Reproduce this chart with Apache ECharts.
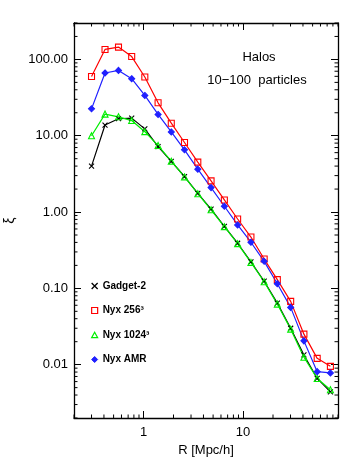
<!DOCTYPE html>
<html>
<head>
<meta charset="utf-8">
<script src="https://cdn.jsdelivr.net/npm/echarts@6/dist/echarts.min.js"></script>
<style>
  html, body { margin: 0; padding: 0; background: #fff; }
  #chart { width: 360px; height: 466px; }
</style>
</head>
<body>
<div id="chart"></div>
<script>
// radius bins, Mpc/h
const radius = [0.30, 0.41, 0.56, 0.76, 1.03, 1.40, 1.90, 2.58, 3.51, 4.77, 6.49, 8.82, 12.0, 16.3, 22.1, 30.1, 40.9, 55.6, 75.5]

const gadget2 = [4.0, 13.8, 16.7, 17.0, 12.3, 7.2, 4.6, 2.92, 1.76, 1.09, 0.65, 0.39, 0.222, 0.124, 0.064, 0.030, 0.0134, 0.0066, 0.0044]
const nyx256 = [59.8, 135, 145, 109, 58.8, 27.0, 14.6, 8.15, 4.51, 2.56, 1.44, 0.81, 0.47, 0.242, 0.130, 0.0675, 0.0251, 0.0121, 0.0095]
const nyx1024 = [10.0, 19.2, 17.7, 15.8, 11.3, 7.43, 4.64, 2.89, 1.74, 1.07, 0.643, 0.385, 0.219, 0.122, 0.0622, 0.0292, 0.0125, 0.0066, 0.0047]
const nyxAMR = [22.5, 66.4, 71.8, 55.8, 33.7, 19.0, 11.2, 6.53, 3.65, 2.09, 1.19, 0.677, 0.402, 0.226, 0.115, 0.0563, 0.0205, 0.0081, 0.0078]

const xTickValues = [1, 10]
const xTickLabels = ['1', '10']
const yTickValues = [0.01, 0.1, 1, 10, 100]
const yTickLabels = ['0.01', '0.10', '1.00', '10.00', '100.00']

const xMin = 0.2, xMax = 90
const yMin = 0.002, yMax = 300

const FONT = '"Liberation Sans", Arial, sans-serif'
const CROSS = 'path://M0,0L10,10M10,0L0,10'
const SQUARE = 'path://M0,0H10V10H0Z'
const TRIANGLE = 'path://M5,0L10,9H0Z'

// minor ticks at 2..9 x 10^n inside the axis range
const minorTicks = (lo, hi) => {
    const out = []
    for (let e = Math.floor(Math.log10(lo)); e <= Math.ceil(Math.log10(hi)); e++) {
        for (let d = 2; d <= 9; d++) {
            const v = d * Math.pow(10, e)
            if (v >= lo * 0.999 && v <= hi * 1.001) out.push(v)
        }
    }
    return out
}
const xMinor = minorTicks(xMin, xMax)
const yMinor = minorTicks(yMin, yMax)

const pickLabel = (values, labels) => v => {
    const i = values.findIndex(t => Math.abs(Math.log10(t) - Math.log10(v)) < 1e-6)
    return i < 0 ? '' : labels[i]
}

const mkSeries = (name, vals, color, symbol, size, fill) => ({
    name: name,
    type: 'line',
    data: radius.map((r, i) => [r, vals[i]]),
    symbol: symbol,
    symbolSize: size,
    lineStyle: { color: color, width: 1.2 },
    itemStyle: { color: fill, borderColor: color, borderWidth: 1.1 },
    emphasis: { disabled: true }
})

const axisBase = {
    axisLine: { show: true, onZero: false, lineStyle: { color: '#000', width: 1.3 } },
    axisTick: { show: true, inside: true, length: 7, lineStyle: { color: '#000', width: 1 } },
    splitLine: { show: false }
}

const chart = echarts.init(document.getElementById('chart'))
chart.setOption({
    animation: false,
    backgroundColor: '#fff',
    grid: { left: 74, right: 22, top: 23, bottom: 48, containLabel: false, outerBoundsMode: 'none' },
    xAxis: [
        Object.assign({}, axisBase, {
            type: 'log', min: xMin, max: xMax, position: 'bottom',
            name: 'R [Mpc/h]', nameLocation: 'middle', nameGap: 21,
            nameTextStyle: { color: '#000', fontSize: 13, fontFamily: FONT },
            axisLabel: { color: '#000', fontSize: 13, fontFamily: FONT, margin: 8,
                formatter: pickLabel(xTickValues, xTickLabels) }
        }),
        Object.assign({}, axisBase, {
            type: 'log', min: xMin, max: xMax, position: 'top',
            axisLabel: { show: false }
        })
    ],
    yAxis: [
        Object.assign({}, axisBase, {
            type: 'log', min: yMin, max: yMax, position: 'left',
            name: 'ξ', nameLocation: 'middle', nameGap: 52, nameRotate: 90,
            nameTextStyle: { color: '#000', fontSize: 14, fontFamily: FONT },
            axisLabel: { color: '#000', fontSize: 13, fontFamily: FONT, margin: 6,
                formatter: pickLabel(yTickValues, yTickLabels) }
        }),
        Object.assign({}, axisBase, {
            type: 'log', min: yMin, max: yMax, position: 'right',
            axisLabel: { show: false }
        })
    ],
    legend: {
        orient: 'vertical', left: 86, top: 276,
        itemWidth: 6, itemHeight: 6, itemGap: 14.5, selectedMode: false,
        textStyle: { color: '#000', fontSize: 10, fontWeight: 'bold', fontFamily: FONT },
        data: [
            { name: 'Gadget-2', icon: CROSS, itemStyle: { color: 'transparent', borderColor: '#000', borderWidth: 1.3 } },
            { name: 'Nyx 256³', icon: SQUARE, itemStyle: { color: 'transparent', borderColor: '#ff0000', borderWidth: 1.2 } },
            { name: 'Nyx 1024³', icon: TRIANGLE, itemStyle: { color: 'transparent', borderColor: '#00ee00', borderWidth: 1.2 } },
            { name: 'Nyx AMR', icon: 'diamond', itemStyle: { color: '#2020ff', borderColor: '#2020ff', borderWidth: 1 } }
        ]
    },
    graphic: [
        { type: 'text', x: 259, y: 57, style: { text: 'Halos', align: 'center', verticalAlign: 'middle', fontSize: 13, fontFamily: FONT, fill: '#000' } },
        { type: 'text', x: 257, y: 80, style: { text: '10−100  particles', align: 'center', verticalAlign: 'middle', fontSize: 13, fontFamily: FONT, fill: '#000' } }
    ],
    series: [
        mkSeries('Gadget-2', gadget2, '#000000', CROSS, 5, 'transparent'),
        mkSeries('Nyx 256³', nyx256, '#ff0000', SQUARE, 6, 'transparent'),
        mkSeries('Nyx 1024³', nyx1024, '#00ee00', TRIANGLE, 6, 'transparent'),
        mkSeries('Nyx AMR', nyxAMR, '#2020ff', 'diamond', 6, '#2020ff'),
        {
            // minor ticks on all four sides of the frame
            type: 'custom', coordinateSystem: 'cartesian2d', silent: true, clip: false, z: 10,
            data: [[1, 1]],
            renderItem: (params, api) => {
                const seg = (x1, y1, x2, y2) => ({ type: 'line', shape: { x1, y1, x2, y2 }, style: { stroke: '#000', lineWidth: 1 } })
                const lo = api.coord([xMin, yMin])
                const hi = api.coord([xMax, yMax])
                const children = []
                xMinor.forEach(v => {
                    const x = api.coord([v, 1])[0]
                    children.push(seg(x, lo[1], x, lo[1] - 3.5), seg(x, hi[1], x, hi[1] + 3.5))
                })
                yMinor.forEach(v => {
                    const y = api.coord([1, v])[1]
                    children.push(seg(lo[0], y, lo[0] + 3.5, y), seg(hi[0], y, hi[0] - 3.5, y))
                })
                return { type: 'group', children: children }
            }
        }
    ]
})
</script>
</body>
</html>
